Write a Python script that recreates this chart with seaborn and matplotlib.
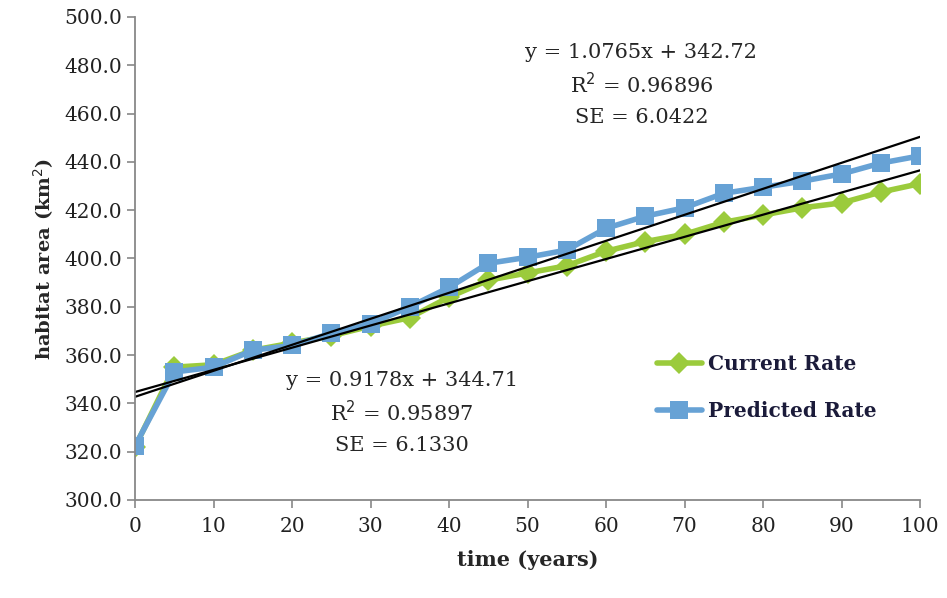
import matplotlib
matplotlib.use('AGG')
import matplotlib.pyplot as plt
import seaborn as sns
import numpy as np
import pandas as pd

years = [0, 5, 10, 15, 20, 25, 30, 35, 40, 45, 50, 55, 60, 65, 70, 75, 80, 85, 90, 95, 100]
current = [322.0, 355.0, 356.0, 362.0, 365.0, 368.0, 372.0, 375.5, 384.0, 391.0, 394.0,
           397.0, 403.0, 407.0, 410.0, 415.0, 418.0, 421.0, 423.0, 427.5, 431.0]
predicted = [322.4, 353.0, 355.0, 362.0, 364.0, 369.0, 373.0, 380.0, 388.0, 398.0, 400.5,
             403.5, 412.5, 417.5, 421.0, 427.0, 429.5, 432.0, 435.0, 439.5, 442.5]

# trendline coefficients as printed on the chart
cur_slope, cur_icpt = 0.9178, 344.71
pred_slope, pred_icpt = 1.0765, 342.72
cur_text = ['y = 0.9178x + 344.71', 'R$^2$ = 0.95897', 'SE = 6.1330']
pred_text = ['y = 1.0765x + 342.72', 'R$^2$ = 0.96896', 'SE = 6.0422']

green = '#9BCB3C'
blue = '#67A2D5'

sns.set_style('white')
plt.rcParams['font.family'] = ['DejaVu Serif']

fig = plt.figure(figsize=(9.47, 5.98), dpi=100)
ax = fig.add_axes([0.1426, 0.1639, 0.8289, 0.8077])

df = pd.DataFrame({'year': years, 'Current Rate': current, 'Predicted Rate': predicted})

sns.lineplot(data=df, x='year', y='Current Rate', ax=ax, color=green, lw=4,
             marker='D', markersize=11, markeredgewidth=0, label='Current Rate')
sns.lineplot(data=df, x='year', y='Predicted Rate', ax=ax, color=blue, lw=4,
             marker='s', markersize=13, markeredgewidth=0, label='Predicted Rate')

xs = np.array([0, 100])
trend = pd.DataFrame({'x': xs,
                      'cur': cur_slope * xs + cur_icpt,
                      'pred': pred_slope * xs + pred_icpt})
sns.lineplot(data=trend, x='x', y='cur', ax=ax, color='black', lw=1.6, legend=False)
sns.lineplot(data=trend, x='x', y='pred', ax=ax, color='black', lw=1.6, legend=False)

for i, t in enumerate(pred_text):
    ax.text(64.5, 485.5 - i * 13.5, t, ha='center', va='center', fontsize=15)
for i, t in enumerate(cur_text):
    ax.text(34.0, 349.5 - i * 13.5, t, ha='center', va='center', fontsize=15)

ax.set_xlim(0, 100)
ax.set_ylim(300, 500)
ax.set_xticks(range(0, 101, 10))
ax.set_yticks(range(300, 501, 20))
ax.set_yticklabels([f'{v:.1f}' for v in range(300, 501, 20)])
ax.tick_params(axis='both', labelsize=14.5, direction='out', length=6, width=1.2,
               color='#888888', labelcolor='#222222', left=True, bottom=True)
ax.tick_params(axis='x', pad=6)
for s in ['top', 'right']:
    ax.spines[s].set_visible(False)
for s in ['left', 'bottom']:
    ax.spines[s].set_color('#888888')
    ax.spines[s].set_linewidth(1.3)

ax.set_xlabel('time (years)', fontsize=15, fontweight='bold', labelpad=10)
ax.set_ylabel('habitat area (km$^2$)', fontsize=14, fontweight='bold', labelpad=6)

leg = ax.legend(loc='upper left', bbox_to_anchor=(0.655, 0.318), frameon=False,
                fontsize=14.5, handlelength=2.2, labelspacing=1.3, handletextpad=0.3,
                borderaxespad=0)
for txt in leg.get_texts():
    txt.set_fontweight('bold')
    txt.set_color('#1b1b3a')

fig.savefig('out.png', dpi=100)
